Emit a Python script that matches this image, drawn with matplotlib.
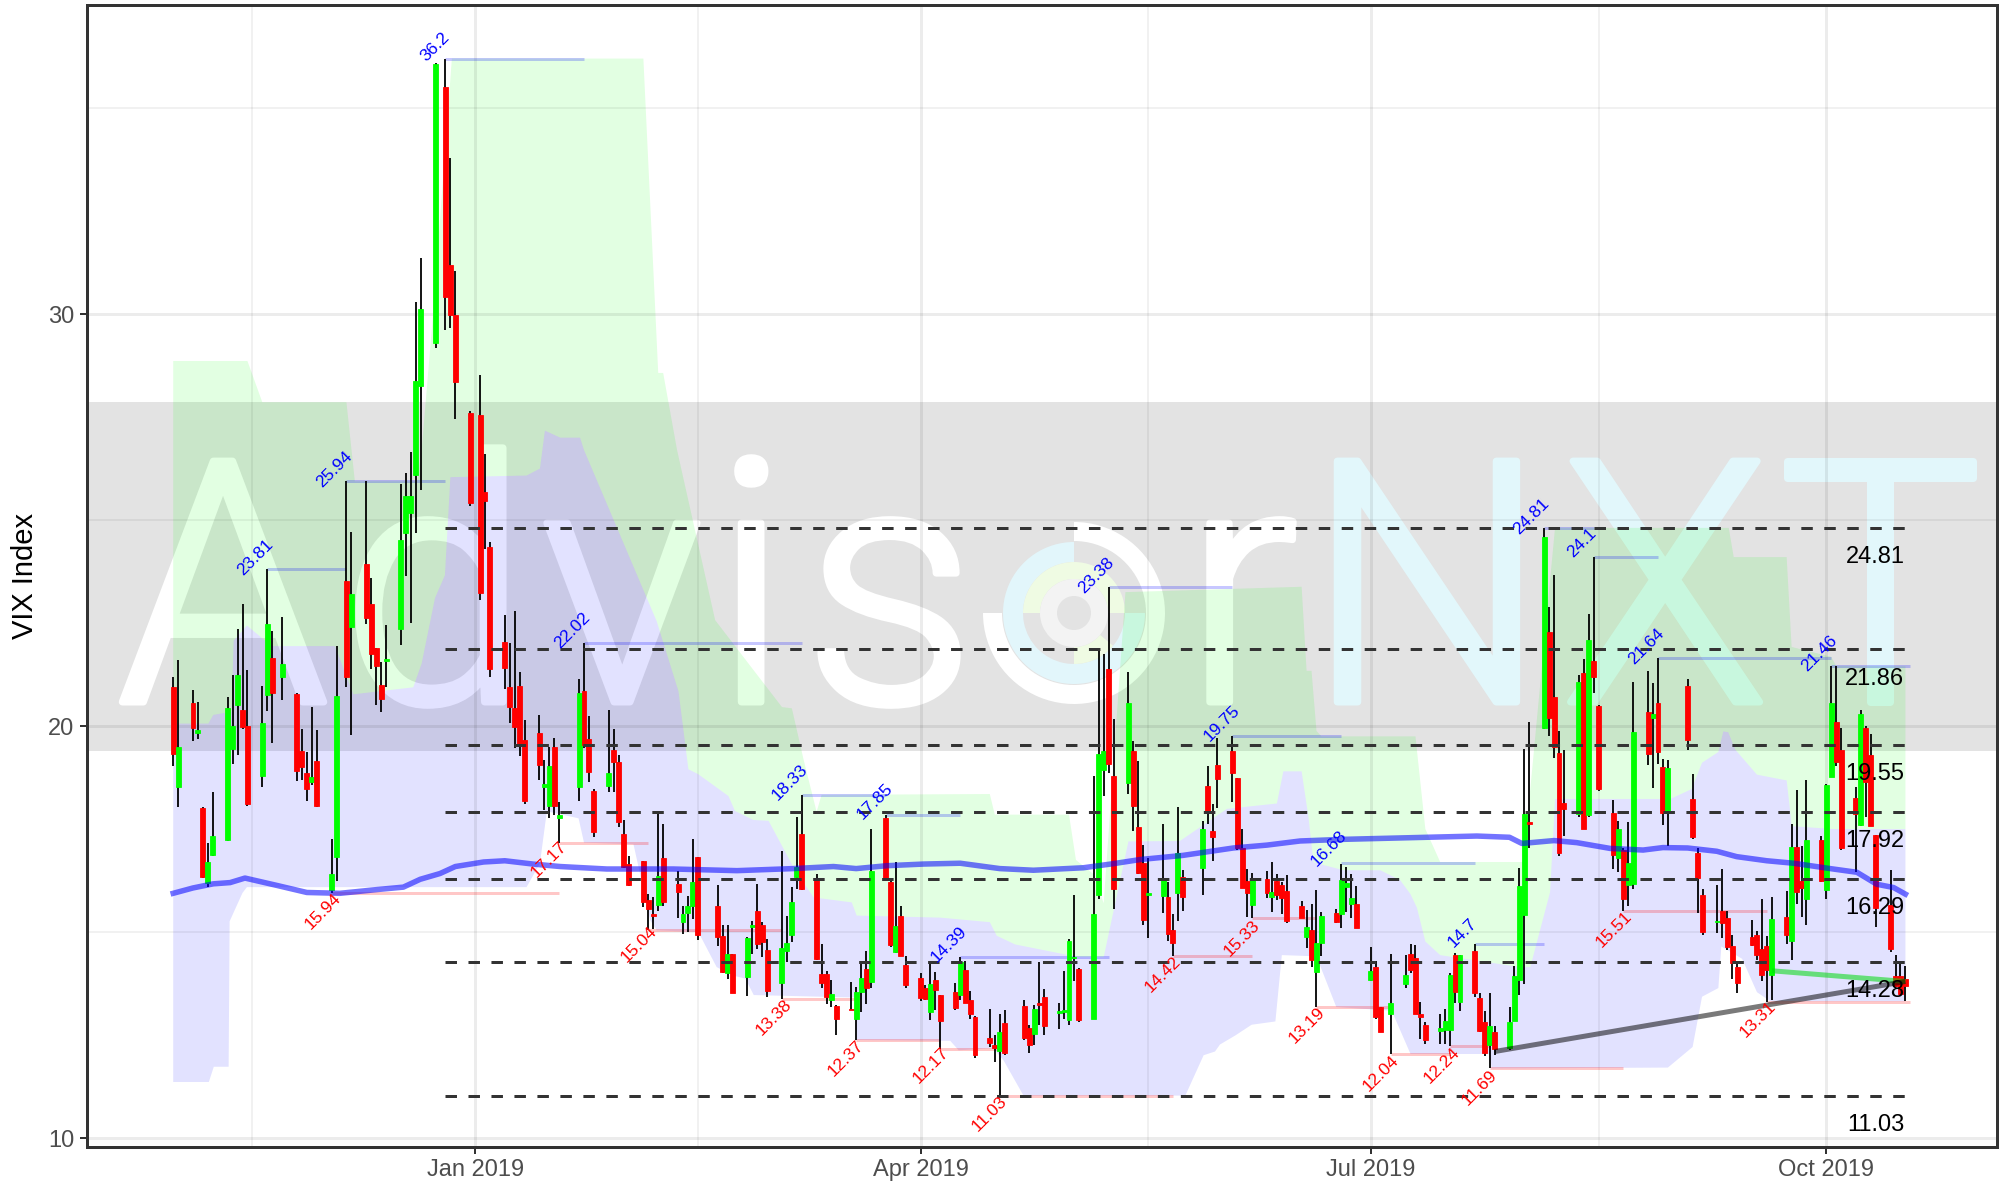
#!/usr/bin/env python3

import matplotlib

matplotlib.use("Agg")

import matplotlib.dates as mdates
import matplotlib.patheffects as path_effects
import matplotlib.pyplot as plt
import numpy as np
import pandas as pd
from matplotlib.patches import Wedge
from matplotlib.transforms import IdentityTransform

WIDTH, HEIGHT = 2007, 1186
DPI = 100
PX = 72 / DPI

# daily VIX candles
candle_dates = (
    [f"2018-11-{d:02d}" for d in (1, 2, 5, 6, 7, 8, 9, 12, 13, 14, 15, 16, 19, 20, 21, 23, 26, 27, 28, 29, 30)]
    + [f"2018-12-{d:02d}" for d in (3, 4, 6, 7, 10, 11, 12, 13, 14, 17, 18, 19, 20, 21, 24, 26, 27, 28, 31)]
    + [f"2019-01-{d:02d}" for d in (2, 3, 4, 7, 8, 9, 10, 11, 14, 15, 16, 17, 18, 22, 23, 24, 25, 28, 29, 30, 31)]
    + [f"2019-02-{d:02d}" for d in (1, 4, 5, 6, 7, 8, 11, 12, 13, 14, 15, 19, 20, 21, 22, 25, 26, 27, 28)]
    + [f"2019-03-{d:02d}" for d in (1, 4, 5, 6, 7, 8, 11, 12, 13, 14, 15, 18, 19, 20, 21, 22, 25, 26, 27, 28, 29)]
    + [f"2019-04-{d:02d}" for d in (1, 2, 3, 4, 5, 8, 9, 10, 11, 12, 15, 16, 17, 18, 22, 23, 24, 25, 26, 29, 30)]
    + [f"2019-05-{d:02d}" for d in (1, 2, 3, 6, 7, 8, 9, 10, 13, 14, 15, 16, 17, 20, 21, 22, 23, 24, 28, 29, 30, 31)]
    + [f"2019-06-{d:02d}" for d in (3, 4, 5, 6, 7, 10, 11, 12, 13, 14, 17, 18, 19, 20, 21, 24, 25, 26, 27, 28)]
    + [f"2019-07-{d:02d}" for d in (1, 2, 3, 5, 8, 9, 10, 11, 12, 15, 16, 17, 18, 19, 22, 23, 24, 25, 26, 29, 30, 31)]
    + [f"2019-08-{d:02d}" for d in (1, 2, 5, 6, 7, 8, 9, 12, 13, 14, 15, 16, 19, 20, 21, 22, 23, 26, 27, 28, 29, 30)]
    + [f"2019-09-{d:02d}" for d in (3, 4, 5, 6, 9, 10, 11, 12, 13, 16, 17, 18, 19, 20, 23, 24, 25, 26, 27, 30)]
    + [f"2019-10-{d:02d}" for d in (1, 2, 3, 4, 7, 8, 9, 10, 11, 14, 15, 16, 17)]
)

opens = [
    20.94, 18.51, 20.57, 19.84, 18.01, 16.19, 16.86, 17.24, 19.44, 20.52, 20.39, 20.0, 18.78, 20.76, 21.65, 21.2, 20.77, 19.4, 18.86, 18.65, 19.16,
    16.02, 16.82, 23.52, 22.41, 23.94, 22.95, 21.9, 20.99, 21.57, 22.36, 24.68, 25.16, 26.1, 28.25, 29.3, 35.5, 31.2, 29.97, 27.59,
    27.54, 25.68, 24.35, 22.05, 20.95, 20.44, 20.97, 19.66, 19.83, 18.53, 18.07, 19.5, 17.77, 18.53, 20.84, 19.68, 18.43, 18.55, 19.43, 19.13, 17.39,
    16.65, 16.72, 15.78, 15.44, 15.66, 16.8, 16.17, 15.24, 15.46, 15.62, 16.81, 15.64, 14.91, 14.01, 14.46, 13.91, 15.13, 15.52, 15.16,
    14.57, 13.77, 14.54, 14.92, 16.33, 17.38, 16.26, 13.97, 13.99, 13.36, 13.2, 13.13, 12.89, 13.55, 14.11, 13.78, 17.76, 16.21, 14.51, 15.38, 14.19,
    13.89, 13.63, 13.07, 13.83, 13.46, 13.54, 13.46, 14.08, 13.35, 12.95, 12.44, 12.25, 12.12, 12.79, 13.2, 12.66, 12.52, 13.28, 13.43, 13.04, 13.07,
    12.86, 14.36, 14.11, 12.88, 15.9, 18.94, 21.39, 18.79, 18.62, 19.39, 17.56, 16.67, 15.9, 15.88, 15.85, 15.05, 15.94, 16.33, 16.56, 18.54, 17.46, 19.05,
    19.4, 18.73, 17.04, 16.24, 15.65, 16.28, 15.84, 16.24, 16.15, 15.99, 15.64, 14.89, 15.04, 14.03, 14.74, 15.45, 15.43, 16.1, 15.67, 15.69,
    13.84, 14.15, 13.17, 13.0, 13.73, 14.47, 14.37, 13.0, 12.74, 12.59, 12.63, 12.63, 14.44, 13.31, 14.55, 13.41, 12.81, 12.25, 12.57, 12.18, 12.85, 13.83,
    15.42, 17.68, 19.95, 22.29, 20.7, 19.35, 18.13, 17.87, 21.28, 17.84, 21.59, 20.48, 17.89, 16.79, 16.98, 16.14, 16.16, 20.34, 20.19, 20.55, 19.01, 17.94,
    20.97, 18.23, 16.91, 15.91, 15.25, 15.52, 15.34, 14.67, 14.16, 14.88, 14.92, 14.6, 14.65, 13.96, 15.36, 14.79, 17.06, 16.24, 15.79, 17.23,
    16.03, 18.77, 20.1, 19.43, 18.26, 17.6, 19.96, 19.29, 17.36, 15.66, 13.93, 13.93, 13.85,
]
highs = [
    21.2, 21.6, 20.87, 20.58, 18.03, 17.17, 18.4, 20.7, 21.24, 22.36, 22.96, 21.35, 20.98, 23.81, 22.3, 22.64, 20.79, 19.93, 19.37, 20.47, 19.91,
    17.27, 21.94, 25.94, 24.7, 25.94, 23.6, 21.9, 21.56, 22.46, 25.87, 26.15, 26.64, 30.3, 31.35, 36.1, 36.2, 33.79, 31.04, 27.64,
    28.53, 26.6, 24.47, 22.7, 22.01, 22.8, 21.31, 20.14, 20.26, 19.18, 19.5, 19.7, 18.16, 21.13, 22.02, 20.24, 18.47, 20.4, 19.93, 19.3, 17.72,
    16.85, 16.73, 15.92, 15.86, 17.87, 17.62, 16.47, 15.64, 15.88, 17.26, 16.81, 16.15, 15.18, 15.16, 14.47, 14.88, 15.28, 16.17, 15.24,
    14.84, 16.97, 15.38, 16.1, 17.8, 18.33, 16.41, 14.7, 14.05, 13.84, 13.22, 13.79, 13.67, 14.3, 14.55, 17.51, 17.85, 16.31, 16.71, 15.62, 14.43,
    14.0, 13.71, 14.3, 14.02, 13.46, 13.76, 14.39, 14.29, 13.57, 12.97, 13.14, 12.49, 13.02, 13.11, 13.35, 12.75, 13.22, 14.28, 13.61, 13.27, 14.05,
    14.83, 15.91, 14.13, 18.79, 21.83, 21.74, 23.38, 20.18, 21.31, 19.64, 19.14, 17.12, 16.8, 17.62, 16.21, 15.43, 18.03, 16.51, 17.69, 19.03, 18.1, 19.71,
    19.75, 18.75, 17.49, 16.54, 16.43, 16.47, 16.69, 16.42, 16.21, 16.39, 15.75, 15.54, 15.69, 16.02, 15.48, 15.55, 16.66, 16.58, 16.4, 16.12,
    14.63, 14.29, 13.19, 14.46, 14.44, 14.71, 14.68, 13.31, 12.81, 13.02, 13.14, 14.0, 14.5, 14.44, 14.7, 13.51, 13.09, 13.53, 12.71, 13.17, 14.17, 16.55,
    19.45, 20.1, 24.81, 22.88, 23.67, 19.88, 19.43, 21.25, 21.63, 22.71, 24.1, 20.5, 18.21, 17.7, 17.05, 17.68, 21.06, 21.33, 21.04, 21.64, 19.19, 19.18,
    21.15, 18.83, 17.04, 16.05, 16.14, 16.53, 15.52, 14.94, 14.23, 15.29, 15.02, 15.8, 14.9, 15.84, 16.0, 17.62, 18.45, 17.09, 18.68, 17.34,
    18.6, 21.46, 21.46, 19.96, 18.53, 20.38, 20.01, 19.8, 17.36, 16.51, 14.44, 14.26, 14.17,
]
lows = [
    19.03, 18.04, 19.64, 19.68, 16.32, 16.09, 16.84, 17.22, 19.09, 19.29, 19.93, 18.07, 18.51, 20.37, 19.6, 20.64, 18.66, 18.7, 18.18, 18.57, 18.03,
    15.94, 16.25, 20.94, 19.79, 22.48, 21.39, 20.5, 20.34, 20.95, 21.97, 23.64, 22.49, 24.68, 25.72, 29.17, 29.6, 29.67, 27.44, 25.33,
    23.05, 24.3, 21.19, 20.91, 20.08, 19.47, 19.28, 18.11, 18.7, 17.97, 17.76, 17.84, 17.17, 18.18, 19.47, 18.64, 17.31, 18.41, 18.41, 17.54, 16.55,
    16.11, 15.61, 15.04, 15.08, 15.52, 15.63, 15.34, 14.96, 15.0, 15.32, 14.8, 14.65, 14.0, 13.86, 13.51, 13.44, 14.47, 14.59, 14.39,
    13.43, 13.38, 14.27, 14.76, 16.05, 16.01, 14.33, 13.63, 13.26, 13.18, 12.51, 13.11, 12.37, 13.06, 13.26, 13.63, 16.29, 14.63, 14.5, 14.41, 13.64,
    13.33, 13.34, 12.86, 13.1, 12.17, 13.11, 13.35, 13.27, 12.9, 11.95, 12.21, 11.84, 11.03, 12.01, 12.37, 12.07, 12.26, 12.75, 12.49, 12.64, 12.88,
    12.75, 13.8, 12.81, 12.88, 15.8, 18.29, 18.85, 15.57, 18.36, 17.45, 16.4, 15.17, 14.86, 15.46, 14.78, 14.42, 15.28, 15.52, 15.91, 17.62, 16.72, 18.01,
    18.16, 17.0, 16.08, 15.36, 15.33, 15.82, 15.49, 15.78, 15.43, 15.22, 15.33, 14.61, 14.15, 13.19, 14.41, 15.22, 15.1, 15.48, 15.35, 15.09,
    13.81, 12.9, 12.57, 12.04, 13.65, 14.0, 13.0, 12.4, 12.28, 12.28, 12.28, 12.24, 13.28, 13.09, 13.43, 12.57, 11.99, 11.69, 12.02, 12.13, 12.85, 13.46,
    13.75, 17.05, 19.93, 19.77, 19.22, 16.84, 17.32, 17.8, 17.51, 17.78, 20.79, 18.42, 16.52, 16.45, 15.51, 15.62, 16.05, 19.06, 18.5, 19.09, 17.6, 17.08,
    19.41, 17.25, 15.47, 14.92, 14.97, 14.86, 14.57, 13.85, 13.51, 14.65, 14.33, 13.8, 13.31, 13.35, 14.7, 14.33, 15.69, 15.36, 15.16, 16.21,
    15.8, 18.77, 19.03, 16.99, 16.45, 17.57, 17.78, 17.57, 15.13, 14.51, 13.67, 13.48, 13.32,
]
closes = [
    19.33, 19.49, 19.96, 19.9, 16.34, 16.7, 17.34, 20.43, 19.99, 21.23, 19.97, 18.1, 20.08, 22.47, 20.8, 21.5, 18.9, 19.0, 18.48, 18.76, 18.06,
    16.42, 20.73, 21.19, 23.2, 22.63, 21.76, 21.46, 20.65, 21.63, 24.52, 25.58, 25.58, 28.38, 30.11, 36.07, 30.42, 29.97, 28.35, 25.42,
    23.22, 25.45, 21.38, 21.4, 20.46, 19.98, 19.51, 18.17, 19.06, 18.6, 19.03, 18.06, 17.85, 20.79, 19.53, 18.89, 17.42, 18.85, 19.13, 17.66, 16.59,
    16.15, 15.72, 15.56, 15.38, 16.35, 15.72, 15.97, 15.43, 15.63, 16.21, 14.92, 14.89, 14.02, 14.46, 13.52, 14.85, 15.16, 14.7, 14.77,
    13.57, 14.62, 14.73, 15.74, 16.59, 16.05, 14.34, 13.77, 13.43, 13.49, 12.89, 13.11, 13.55, 13.89, 13.63, 16.47, 16.31, 14.68, 15.14, 14.43, 13.71,
    13.41, 13.37, 13.73, 13.59, 12.83, 13.16, 14.27, 13.28, 13.02, 12.01, 12.31, 12.18, 12.57, 12.07, 12.43, 12.27, 13.14, 13.24, 12.73, 13.09, 13.1,
    14.79, 14.39, 12.87, 15.43, 19.32, 19.39, 19.09, 16.04, 20.55, 18.06, 16.43, 15.29, 15.94, 16.3, 14.95, 14.74, 16.91, 15.85, 17.49, 17.93, 17.3, 18.71,
    18.86, 17.04, 16.08, 15.94, 16.27, 15.94, 15.97, 15.91, 15.82, 15.28, 15.35, 15.13, 14.32, 14.74, 15.39, 15.24, 16.26, 16.2, 15.82, 15.09,
    14.05, 12.93, 12.57, 13.27, 13.96, 14.09, 13.02, 12.93, 12.39, 12.66, 12.83, 13.96, 13.54, 14.44, 13.53, 12.61, 12.07, 12.73, 12.15, 12.82, 13.93, 16.11,
    17.87, 17.62, 24.59, 20.2, 19.5, 16.91, 17.99, 21.08, 17.51, 22.1, 21.18, 18.47, 16.88, 17.49, 15.8, 16.67, 19.86, 19.33, 20.29, 19.36, 17.89, 18.98,
    19.67, 17.3, 16.3, 14.99, 15.28, 15.23, 14.63, 14.25, 13.77, 14.69, 14.44, 13.96, 14.07, 15.32, 14.92, 17.06, 15.98, 16.07, 17.23, 16.24,
    18.56, 20.56, 19.13, 17.04, 17.87, 20.28, 18.65, 17.57, 15.58, 14.58, 13.69, 13.5, 13.69,
]

# cloud outlines, day offsets from 2019-01-01
low_days = [-61, -53.8, -52.8, -49.8, -49.6, -47, -46.1, 10.4, 13.1, 14.5, 20.9, 22, 32, 35.4, 36.7, 45.1, 48.8, 51.9, 54.6, 56.3, 76.8, 77.1, 96, 97.7, 104.7, 106.8, 110.8, 143.5, 147.2, 149.5, 150.5, 153.6, 156.9, 161.7, 163, 170, 174, 185.2, 189, 205, 205.4, 241, 246, 247.9, 251.2, 251.8, 256, 259, 261.7, 289]
low_vals = [11.36, 11.36, 11.73, 11.73, 15.26, 15.95, 16.09, 16.09, 16.67, 17.93, 17.76, 17.17, 17.13, 15.28, 15.04, 15.0, 14.15, 13.95, 13.87, 13.47, 13.41, 12.38, 12.36, 12.13, 12.18, 11.88, 11.03, 11.03, 12.01, 12.1, 12.27, 12.49, 12.75, 12.83, 14.44, 14.41, 13.18, 13.09, 12.04, 12.04, 11.69, 11.71, 12.21, 13.43, 13.64, 14.65, 14.35, 13.54, 13.32, 13.32]
mid_days = [-61, -53.9, -52.9, -49.2, -48.8, -46.1, -41.1, -28.3, -24.6, -12.5, -10.8, -8.1, -6.1, -5, 10.4, 13.1, 14.1, 17.2, 21.2, 22, 36.7, 41.1, 43.1, 45.1, 51.2, 52.5, 56.2, 59.3, 64.7, 68.4, 76.1, 77.1, 94, 104, 105.4, 109.1, 122, 127, 132, 142.4, 151.9, 162, 163.3, 167, 168.4, 169.4, 175.5, 182.9, 186.9, 189, 190.3, 192, 195, 211.1, 213.2, 217.2, 218.2, 241.5, 245.8, 247.9, 251.2, 252.2, 253.2, 254.6, 259, 265, 265.6, 266, 274.4, 289]
mid_vals = [20.06, 20.06, 20.27, 20.35, 22.07, 22.44, 21.94, 21.94, 20.77, 20.94, 21.52, 23.11, 23.66, 26.04, 26.08, 26.25, 27.17, 27.0, 27.0, 26.7, 22.54, 20.84, 18.95, 18.83, 18.3, 17.94, 17.72, 17.7, 16.49, 15.84, 15.72, 15.4, 15.35, 15.24, 14.91, 14.7, 14.39, 14.39, 17.2, 17.21, 17.99, 18.12, 18.9, 18.9, 17.77, 16.69, 16.5, 16.5, 16.26, 15.92, 15.59, 14.77, 14.44, 14.15, 14.15, 15.97, 18.23, 18.23, 18.47, 19.11, 19.37, 19.87, 19.85, 19.43, 18.82, 18.68, 18.05, 17.57, 17.5, 17.5]
top_days = [-61, -46, -43, -26, -24.3, -11.7, -10.8, -8.5, -4.7, 34, 37, 38, 40.8, 48.5, 62, 64, 66.4, 69, 70, 104, 105, 120, 121.4, 125, 127, 131.4, 167, 168, 169, 170, 171, 190, 192, 195, 211.8, 218.2, 253.3, 254.3, 265, 266, 274, 275, 289]
top_vals = [28.86, 28.86, 27.86, 27.86, 25.94, 25.94, 26.7, 30.0, 36.2, 36.2, 28.57, 28.57, 26.7, 22.57, 20.46, 20.43, 19.17, 17.92, 18.33, 18.35, 17.85, 17.85, 16.75, 16.4, 15.7, 23.25, 23.38, 21.34, 21.34, 19.88, 19.75, 19.75, 17.5, 16.7, 16.7, 24.81, 24.81, 24.1, 24.1, 21.92, 21.68, 21.46, 21.45]

# slow moving average
sma_days = [-61, -57, -52.9, -49.5, -46.5, -40, -34, -27.3, -19.9, -14.5, -11.1, -7.1, -4, 1.7, 6, 11.7, 17.2, 26.6, 40, 52.9, 64.3, 72.4, 77, 83.2, 90.6, 98, 106, 112.8, 122.9, 129, 134.4, 143, 153.2, 160, 166.7, 175.5, 189, 202.4, 209, 211.5, 218, 222.6, 229.3, 236, 240, 245, 250.9, 254.9, 261, 266.4, 273.8, 279.2, 283.2, 286.6, 289]
sma_vals = [15.94, 16.07, 16.17, 16.2, 16.31, 16.13, 15.96, 15.94, 16.03, 16.09, 16.28, 16.42, 16.59, 16.7, 16.73, 16.65, 16.59, 16.53, 16.53, 16.49, 16.54, 16.59, 16.54, 16.61, 16.65, 16.67, 16.54, 16.5, 16.56, 16.66, 16.76, 16.86, 17.04, 17.11, 17.21, 17.25, 17.29, 17.33, 17.3, 17.15, 17.22, 17.17, 17.03, 16.99, 17.05, 17.04, 16.96, 16.83, 16.73, 16.67, 16.54, 16.45, 16.16, 16.08, 15.92]

# horizontal levels and their labels
level_vals = [24.81, 21.86, 19.55, 17.92, 16.29, 14.28, 11.03]

high_vals = [23.81, 25.94, 36.2, 22.02, 18.33, 17.85, 14.39, 23.38, 19.75, 16.68, 14.7, 24.81, 24.1, 21.64, 21.46]
high_labels = ["23.81", "25.94", "36.2", "22.02", "18.33", "17.85", "14.39", "23.38", "19.75", "16.68", "14.7", "24.81", "24.1", "21.64", "21.46"]
high_starts = ["2018-11-20", "2018-12-06", "2018-12-26", "2019-01-23", "2019-03-08", "2019-03-25", "2019-04-09", "2019-05-09", "2019-06-03", "2019-06-25", "2019-07-22", "2019-08-05", "2019-08-15", "2019-08-28", "2019-10-02"]
high_label_days = [-44.5, -28.5, -8, 19.7, 63.6, 80.7, 95.7, 125.5, 150.8, 172.5, 199.4, 213.4, 223.7, 236.7, 271.6]
high_label_vals = [24.1, 26.24, 36.49, 22.33, 18.63, 18.17, 14.69, 23.66, 20.06, 17.02, 14.97, 25.09, 24.44, 21.93, 21.77]

low_marks = [15.94, 17.17, 15.04, 13.38, 12.37, 12.17, 11.03, 14.42, 15.33, 13.19, 12.04, 12.24, 11.69, 15.51, 13.31]
low_labels = ["15.94", "17.17", "15.04", "13.38", "12.37", "12.17", "11.03", "14.42", "15.33", "13.19", "12.04", "12.24", "11.69", "15.51", "13.31"]
low_starts = ["2018-12-03", "2019-01-18", "2019-02-05", "2019-03-04", "2019-03-19", "2019-04-05", "2019-04-17", "2019-05-22", "2019-06-07", "2019-06-20", "2019-07-05", "2019-07-17", "2019-07-25", "2019-08-21", "2019-09-19"]
low_label_days = [-30.8, 15, 33.1, 60.3, 75, 92.1, 104, 138.9, 154.9, 168.1, 183.1, 195.3, 203, 230.2, 259.2]
low_label_vals = [15.5, 16.77, 14.69, 12.92, 11.93, 11.77, 10.59, 13.98, 14.84, 12.73, 11.58, 11.77, 11.21, 15.06, 12.89]

line_end = "2019-10-18"

# the two short trend lines at the right
grey_trend_dates = ["2019-07-26", "2019-10-17"]
grey_trend_vals = [12.1, 13.8]
green_trend_dates = ["2019-09-20", "2019-10-17"]
green_trend_vals = [14.06, 13.8]

tick_dates = ["2019-01-01", "2019-04-01", "2019-07-01", "2019-10-01"]
tick_labels = ["Jan 2019", "Apr 2019", "Jul 2019", "Oct 2019"]
minor_dates = ["2018-11-17", "2019-02-15", "2019-05-17", "2019-08-16"]


def to_px_y(y):
    """Pixel row counted from the top of the image to display coordinates."""
    return HEIGHT - y


def draw_watermark(ax):
    """Grey band with the AdvisorNXT mark under everything else."""
    ax.axhspan(19.39, 27.86, color="#E3E3E3", lw=0, zorder=1)
    identity = IdentityTransform()

    white_letters = [("A", 223), ("d", 435), ("v", 622), ("i", 751), ("s", 890), ("r", 1241)]
    cyan_letters = [("N", 1427), ("X", 1665), ("T", 1880)]
    for letters, colour in ((white_letters, "white"), (cyan_letters, "#E2F7FB")):
        for letter, x in letters:
            # the mark's strokes are heavier than any installed light weight
            ax.text(x, to_px_y(702), letter, transform=identity, family="Roboto",
                    weight=300, fontsize=244, color=colour, ha="center",
                    va="baseline", zorder=1.2, clip_on=True,
                    path_effects=[path_effects.withStroke(linewidth=7 * PX, foreground=colour)])

    centre = (1074, to_px_y(613))
    rings = [
        (91, 19, 180, 450, "white"),
        (71, 20, 90, 360, "#E2F6FB"),
        (51, 17, 0, 180, "#EFFBE3"),
        (51, 17, 270, 320, "#EFFBE3"),
        (34, 17, 0, 360, "#F3F3F3"),
    ]
    for radius, ring_width, start, end, colour in rings:
        ax.add_patch(Wedge(centre, radius, start, end, width=ring_width, color=colour,
                           lw=0, transform=identity, zorder=1.2))


def main():
    plt.rcParams["font.family"] = ["Liberation Sans", "DejaVu Sans"]

    fig = plt.figure(figsize=(WIDTH / DPI, HEIGHT / DPI), dpi=DPI)
    ax = fig.add_axes([86.6 / WIDTH, 1 - 1146.7 / HEIGHT, (1997 - 86.6) / WIDTH, (1146.7 - 5) / HEIGHT])

    base = mdates.datestr2num("2019-01-01")
    candles = pd.DataFrame({
        "date": mdates.datestr2num(candle_dates),
        "open": opens,
        "high": highs,
        "low": lows,
        "close": closes,
    })

    ax.set_xlim(base - 78.5, base + 307.5)
    ax.set_ylim(9.79, 37.5)

    draw_watermark(ax)

    # cloud: blue between low and mid, green between mid and top
    ax.fill(
        np.r_[base + np.array(low_days), base + np.array(mid_days)[::-1]],
        np.r_[low_vals, mid_vals[::-1]],
        color=(0, 0, 1, 0.114), lw=0, zorder=1.5,
    )
    ax.fill(
        np.r_[base + np.array(mid_days), base + np.array(top_days)[::-1]],
        np.r_[mid_vals, top_vals[::-1]],
        color=(0, 1, 0, 0.114), lw=0, zorder=1.5,
    )

    # grid sits on top of the band
    ax.set_axisbelow(False)
    ax.set_yticks([10, 20, 30])
    ax.set_yticks([15, 25, 35], minor=True)
    ax.set_xticks(mdates.datestr2num(tick_dates), tick_labels)
    ax.set_xticks(mdates.datestr2num(minor_dates), minor=True)
    ax.grid(which="major", color="black", alpha=0.075, lw=3 * PX)
    ax.grid(which="minor", color="black", alpha=0.075, lw=1.5 * PX)
    ax.tick_params(which="minor", length=0)
    ax.tick_params(which="major", length=7 * PX, width=2 * PX, color="#333333",
                   labelcolor="#4D4D4D", labelsize=17, pad=4)
    for spine in ax.spines.values():
        spine.set_linewidth(3 * PX)
        spine.set_color("#333333")
        spine.set_zorder(8)
    ax.set_ylabel("VIX Index", fontsize=21, color="black", labelpad=6)

    # pale lines from each swing point to the next one
    high_x = mdates.datestr2num(high_starts + [line_end])
    low_x = mdates.datestr2num(low_starts + [line_end])
    for i, value in enumerate(high_vals):
        ax.plot(high_x[i:i + 2], [value, value], color=(0, 0, 1), alpha=0.22,
                lw=3 * PX, solid_capstyle="butt", zorder=3)
    for i, value in enumerate(low_marks):
        ax.plot(low_x[i:i + 2], [value, value], color=(1, 0, 0), alpha=0.22,
                lw=3 * PX, solid_capstyle="butt", zorder=3)

    # candles
    up = candles["close"] >= candles["open"]
    ax.vlines(candles["date"], candles["low"], candles["high"], color="black",
              lw=1.8 * PX, zorder=4)
    body_low = candles[["open", "close"]].min(axis=1)
    body_high = candles[["open", "close"]].max(axis=1)
    ax.bar(candles["date"], body_high - body_low, bottom=body_low, width=1.0,
           color=np.where(up, "#00FF00", "#FF0000"),
           edgecolor=np.where(up, "#00FF00", "#FF0000"), lw=0.6, zorder=5)

    # moving average and trend lines
    ax.plot(base + np.array(sma_days), sma_vals, color=(0, 0, 1), alpha=0.55,
            lw=5.5 * PX, zorder=6)
    ax.plot(mdates.datestr2num(green_trend_dates), green_trend_vals, color=(0, 0.85, 0.05),
            alpha=0.55, lw=5 * PX, solid_capstyle="butt", zorder=6)
    ax.plot(mdates.datestr2num(grey_trend_dates), grey_trend_vals, color="black",
            alpha=0.52, lw=5 * PX, solid_capstyle="butt", zorder=6)

    # support and resistance levels
    for level in level_vals:
        ax.plot([base - 6, base + 289], [level, level], color="#333333", lw=3 * PX,
                linestyle=(0, (3.83, 3.83)), dash_capstyle="butt", zorder=6.5)
        ax.text(base + 288.8, level - 0.71, f"{level:.2f}", color="black", fontsize=17,
                ha="right", va="center", zorder=7)

    # swing labels
    for label, day, value in zip(high_labels, high_label_days, high_label_vals):
        ax.text(base + day, value, label, color="#0000FF", fontsize=12.5, rotation=45,
                rotation_mode="anchor", ha="center", va="center", zorder=7)
    for label, day, value in zip(low_labels, low_label_days, low_label_vals):
        ax.text(base + day, value, label, color="#FF0000", fontsize=12.5, rotation=45,
                rotation_mode="anchor", ha="center", va="center", zorder=7)

    fig.savefig("out.png", dpi=DPI)
    plt.close(fig)


if __name__ == "__main__":
    main()
